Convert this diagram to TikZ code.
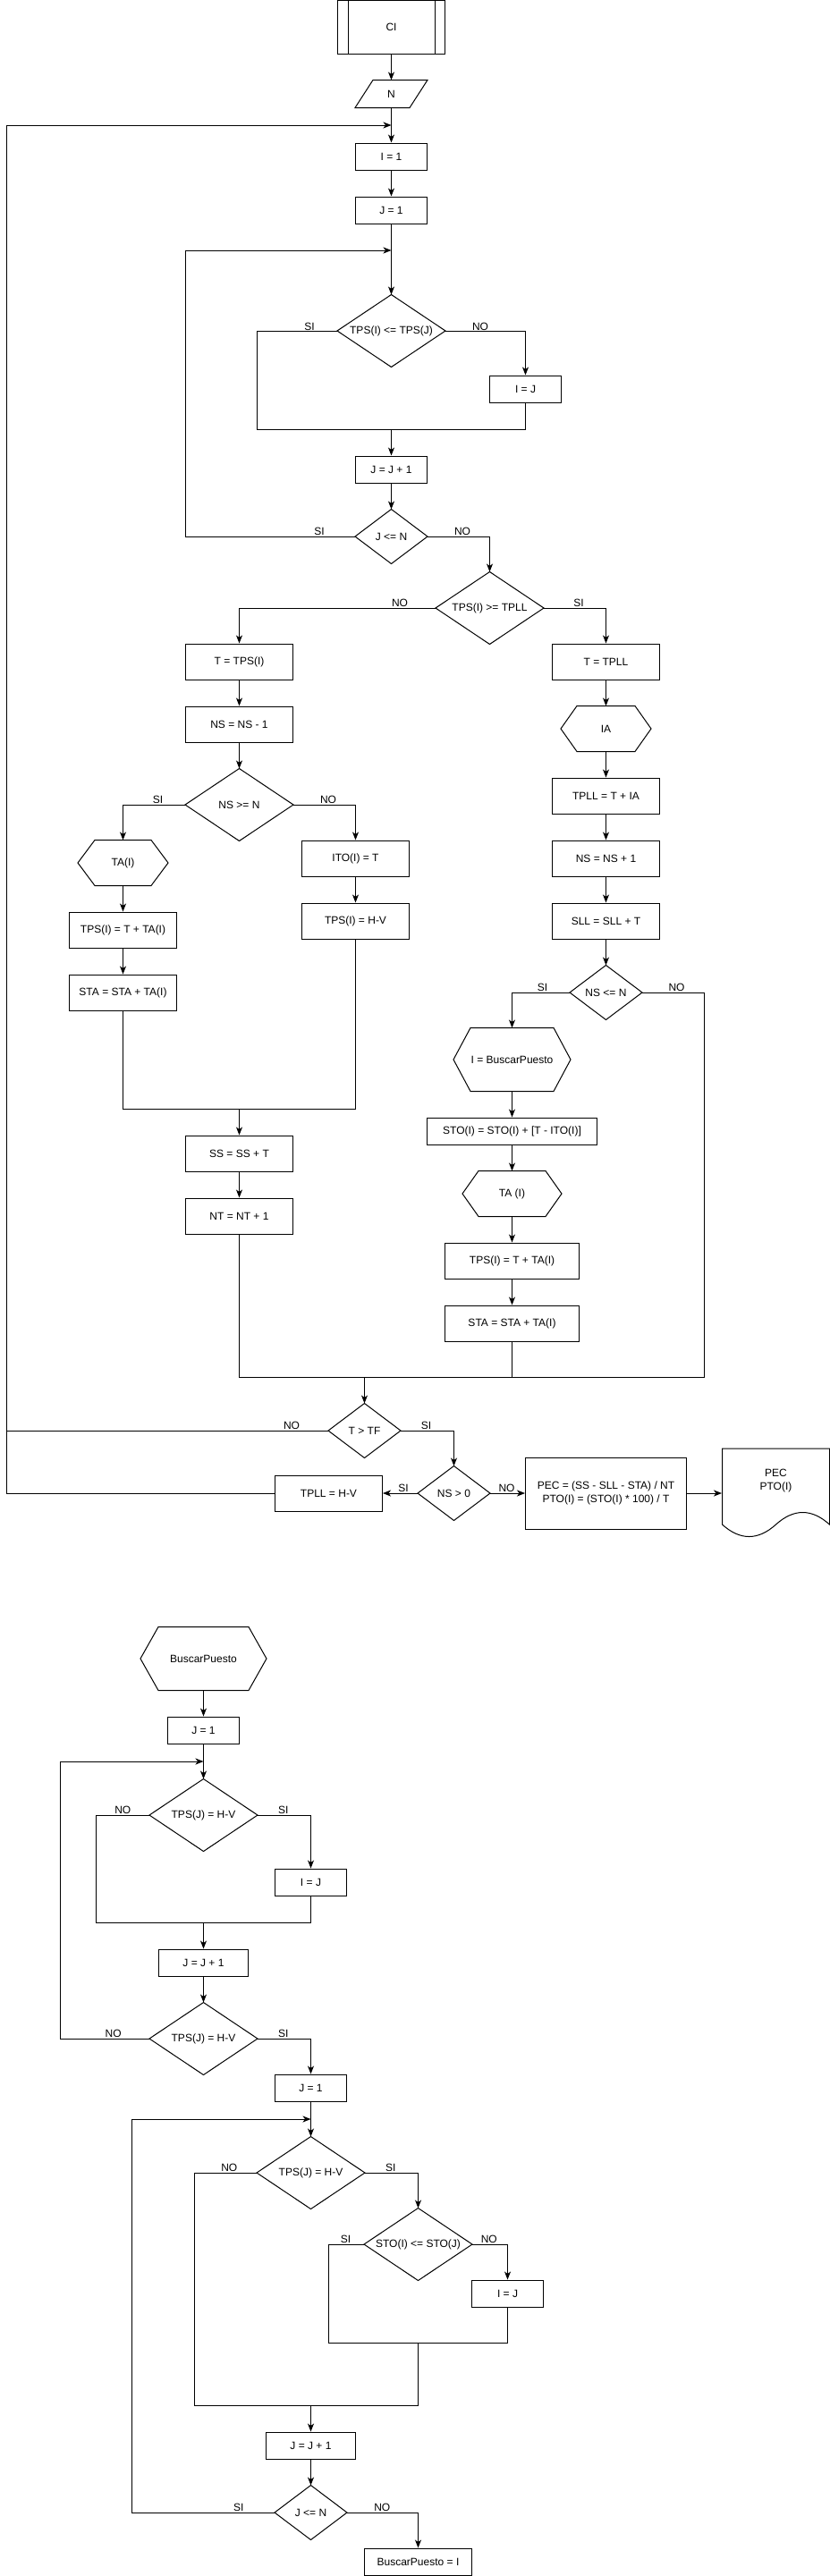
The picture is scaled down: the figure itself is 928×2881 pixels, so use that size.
\documentclass[tikz,border=0pt]{standalone}
\usepackage{fontspec}
\setmainfont{Liberation Sans}
\usetikzlibrary{arrows.meta}
\newcommand\diadraw[1]{\draw (#1.north) -- (#1.east) -- (#1.south) -- (#1.west) -- cycle;}
\newcommand\hexdraw[2]{\draw ([xshift=#2pt]#1.north west) -- ([xshift=-#2pt]#1.north east) -- (#1.east) -- ([xshift=-#2pt]#1.south east) -- ([xshift=#2pt]#1.south west) -- (#1.west) -- cycle;}
\begin{document}
\begin{tikzpicture}[x=1pt,y=-1pt,line width=1pt,
  font=\fontsize{12pt}{14.4pt}\selectfont,
  proc/.style args={#1x#2}{draw,rectangle,inner sep=0pt,minimum width=#1pt,minimum height=#2pt},
  ghost/.style args={#1x#2}{rectangle,inner sep=0pt,minimum width=#1pt,minimum height=#2pt},
  lbl/.style={inner sep=0pt},
  arr/.style={-{Stealth[length=9pt,width=7pt,inset=2.5pt]}}]
\useasboundingbox (0,0) rectangle (928,2881);

% ---------------- main chart nodes ----------------
\node[proc=120x60] (ci) at (437.5,30) {CI};
\draw ([xshift=12pt]ci.north west) -- ([xshift=12pt]ci.south west);
\draw ([xshift=-12pt]ci.north east) -- ([xshift=-12pt]ci.south east);
\node[ghost=80x30] (n) at (437.5,105) {N};
\draw ([xshift=20pt]n.north west) -- (n.north east) -- ([xshift=-20pt]n.south east) -- (n.south west) -- cycle;
\node[proc=80x30] (i1) at (437.5,175) {I = 1};
\node[proc=80x30] (j1) at (437.5,235) {J = 1};
\node[ghost=120x80] (d1) at (437.5,370) {TPS(I) <= TPS(J)}; \diadraw{d1}
\node[proc=80x30] (ij1) at (587.5,435) {I = J};
\node[proc=80x30] (jj1) at (437.5,525) {J = J + 1};
\node[ghost=80x60] (d2) at (437.5,600) {J <= N}; \diadraw{d2}
\node[ghost=120x80] (d3) at (547.5,680) {TPS(I) >= TPLL}; \diadraw{d3}
\node[proc=120x40] (ttps) at (267.5,740) {T = TPS(I)};
\node[proc=120x40] (nsm) at (267.5,810) {NS = NS - 1};
\node[ghost=120x80] (d4) at (267.5,900) {NS >= N}; \diadraw{d4}
\node[ghost=100x50] (ta1) at (137.5,965) {TA(I)}; \hexdraw{ta1}{19}
\node[proc=120x40] (tps1) at (137.5,1040) {TPS(I) = T + TA(I)};
\node[proc=120x40] (sta1) at (137.5,1110) {STA = STA + TA(I)};
\node[proc=120x40] (ito) at (397.5,960) {ITO(I) = T};
\node[proc=120x40] (tpshv) at (397.5,1030) {TPS(I) = H-V};
\node[proc=120x40] (ss) at (267.5,1290) {SS = SS + T};
\node[proc=120x40] (nt) at (267.5,1360) {NT = NT + 1};
\node[proc=120x40] (ttpll) at (677.5,740) {T = TPLL};
\node[ghost=100x50] (ia) at (677.5,815) {IA}; \hexdraw{ia}{18}
\node[proc=120x40] (tpllia) at (677.5,890) {TPLL = T + IA};
\node[proc=120x40] (nsp) at (677.5,960) {NS = NS + 1};
\node[proc=120x40] (sll) at (677.5,1030) {SLL = SLL + T};
\node[ghost=80x60] (d5) at (677.5,1110) {NS <= N}; \diadraw{d5}
\node[ghost=130x70] (ibp) at (572.5,1185) {I = BuscarPuesto}; \hexdraw{ibp}{19}
\node[proc=190x30] (sto) at (572.5,1265) {STO(I) = STO(I) + [T - ITO(I)]};
\node[ghost=110x50] (ta2) at (572.5,1335) {TA (I)}; \hexdraw{ta2}{18}
\node[proc=150x40] (tps2) at (572.5,1410) {TPS(I) = T + TA(I)};
\node[proc=150x40] (sta2) at (572.5,1480) {STA = STA + TA(I)};
\node[ghost=80x60] (d6) at (407.5,1600) {T > TF}; \diadraw{d6}
\node[ghost=80x60] (d7) at (507.5,1670) {NS > 0}; \diadraw{d7}
\node[proc=120x40] (tpllhv) at (367.5,1670) {TPLL = H-V};
\node[proc=180x80,align=center] (pec) at (677.5,1670) {PEC = (SS - SLL - STA) / NT\\PTO(I) = (STO(I) * 100) / T};
\node[ghost=120x100] (doc) at (867.5,1670) {};
\draw (807.5,1620) -- (927.5,1620) -- (927.5,1705) .. controls (907.5,1687) and (887.5,1687) .. (867.5,1705) .. controls (847.5,1723) and (827.5,1723) .. (807.5,1705) -- cycle;
\node[lbl,align=center] (doctext) at (867.5,1656) {PEC\\PTO(I)};

% coordinates
\coordinate (L1) at (437.5,140);
\coordinate (L2) at (437.5,280);
\coordinate (m1) at (437.5,480);
\coordinate (m2) at (267.5,1240);
\coordinate (m3) at (407.5,1540);

% ---------------- main chart connectors ----------------
\draw[arr] (ci) -- (n);
\draw[arr] (n) -- (i1);
\draw[arr] (i1) -- (j1);
\draw[arr] (j1) -- (d1.north);
\draw[arr] (d1.east) -| (ij1.north);
\draw (d1.west) -| (287.5,480) -- (m1);
\draw (ij1.south) |- (m1);
\draw[arr] (m1) -- (jj1.north);
\draw[arr] (jj1) -- (d2.north);
\draw[arr] (d2.west) -- (207.5,600) -- (207.5,280) -- (L2);
\draw[arr] (d2.east) -| (d3.north);
\draw[arr] (d3.west) -| (ttps.north);
\draw[arr] (d3.east) -| (ttpll.north);
\draw[arr] (ttps) -- (nsm);
\draw[arr] (nsm) -- (d4.north);
\draw[arr] (d4.west) -| (ta1.north);
\draw[arr] (d4.east) -| (ito.north);
\draw[arr] (ta1) -- (tps1);
\draw[arr] (tps1) -- (sta1);
\draw[arr] (ito) -- (tpshv);
\draw (sta1.south) |- (m2);
\draw (tpshv.south) |- (m2);
\draw[arr] (m2) -- (ss.north);
\draw[arr] (ss) -- (nt);
\draw[arr] (ttpll) -- (ia);
\draw[arr] (ia) -- (tpllia);
\draw[arr] (tpllia) -- (nsp);
\draw[arr] (nsp) -- (sll);
\draw[arr] (sll) -- (d5.north);
\draw[arr] (d5.west) -| (ibp.north);
\draw[arr] (ibp) -- (sto);
\draw[arr] (sto) -- (ta2);
\draw[arr] (ta2) -- (tps2);
\draw[arr] (tps2) -- (sta2);
\draw (nt.south) |- (m3);
\draw (sta2.south) |- (m3);
\draw (d5.east) -| (787.5,1540) -- (m3);
\draw[arr] (m3) -- (d6.north);
\draw[arr] (d6.west) -- (7.5,1600) -- (7.5,140) -- (L1);
\draw[arr] (d6.east) -| (d7.north);
\draw[arr] (d7.west) -- (tpllhv.east);
\draw (tpllhv.west) -- (7.5,1670) -- (7.5,1600);
\draw[arr] (d7.east) -- (pec.west);
\draw[arr] (pec.east) -- (doc.west);

% labels
\node[lbl] (l1a) at (346,365) {SI};
\node[lbl] (l1b) at (537,365) {NO};
\node[lbl] (l2a) at (357,594) {SI};
\node[lbl] (l2b) at (517,594) {NO};
\node[lbl] (l3a) at (447,674) {NO};
\node[lbl] (l3b) at (647,674) {SI};
\node[lbl] (l4a) at (176.5,894) {SI};
\node[lbl] (l4b) at (367,894) {NO};
\node[lbl] (l5a) at (606.5,1104) {SI};
\node[lbl] (l5b) at (756.5,1104) {NO};
\node[lbl] (l6a) at (326,1594) {NO};
\node[lbl] (l6b) at (476.5,1594) {SI};
\node[lbl] (l7a) at (451,1664) {SI};
\node[lbl] (l7b) at (566.5,1664) {NO};

% ---------------- BuscarPuesto chart ----------------
\node[ghost=140x70] (bp) at (227.5,1855) {BuscarPuesto}; \hexdraw{bp}{20}
\node[proc=80x30] (bj1) at (227.5,1935) {J = 1};
\node[ghost=120x80] (d8) at (227.5,2030) {TPS(J) = H-V}; \diadraw{d8}
\node[proc=80x30] (bij1) at (347.5,2105) {I = J};
\node[proc=100x30] (bjj1) at (227.5,2195) {J = J + 1};
\node[ghost=120x80] (d9) at (227.5,2280) {TPS(J) = H-V}; \diadraw{d9}
\node[proc=80x30] (bj2) at (347.5,2335) {J = 1};
\node[ghost=120x80] (d10) at (347.5,2430) {TPS(J) = H-V}; \diadraw{d10}
\node[ghost=120x80] (d11) at (467.5,2510) {STO(I) <= STO(J)}; \diadraw{d11}
\node[proc=80x30] (bij2) at (567.5,2565) {I = J};
\node[proc=100x30] (bjj2) at (347.5,2735) {J = J + 1};
\node[ghost=80x60] (d12) at (347.5,2810) {J <= N}; \diadraw{d12}
\node[proc=120x30] (bpi) at (467.5,2865) {BuscarPuesto = I};

\coordinate (L3) at (227.5,1970);
\coordinate (L4) at (347.5,2370);
\coordinate (m4) at (227.5,2150);
\coordinate (m5) at (467.5,2620);
\coordinate (m6) at (347.5,2690);

\draw[arr] (bp) -- (bj1);
\draw[arr] (bj1) -- (d8.north);
\draw[arr] (d8.east) -| (bij1.north);
\draw (d8.west) -| (107.5,2150) -- (m4);
\draw (bij1.south) |- (m4);
\draw[arr] (m4) -- (bjj1.north);
\draw[arr] (bjj1) -- (d9.north);
\draw[arr] (d9.west) -- (67.5,2280) -- (67.5,1970) -- (L3);
\draw[arr] (d9.east) -| (bj2.north);
\draw[arr] (bj2) -- (d10.north);
\draw[arr] (d10.east) -| (d11.north);
\draw (d10.west) -| (217.5,2690) -- (m6);
\draw (d11.west) -| (367.5,2620) -- (m5);
\draw[arr] (d11.east) -| (bij2.north);
\draw (bij2.south) |- (m5);
\draw (m5) -- (467.5,2690) -- (m6);
\draw[arr] (m6) -- (bjj2.north);
\draw[arr] (bjj2) -- (d12.north);
\draw[arr] (d12.west) -- (147.5,2810) -- (147.5,2370) -- (L4);
\draw[arr] (d12.east) -| (bpi.north);

\node[lbl] (l8a) at (137.3,2024) {NO};
\node[lbl] (l8b) at (316.7,2024) {SI};
\node[lbl] (l9a) at (126.7,2274) {NO};
\node[lbl] (l9b) at (316.7,2274) {SI};
\node[lbl] (l10a) at (256.3,2424) {NO};
\node[lbl] (l10b) at (436.8,2424) {SI};
\node[lbl] (l11a) at (386.5,2504) {SI};
\node[lbl] (l11b) at (546.8,2504) {NO};
\node[lbl] (l12a) at (266.7,2804) {SI};
\node[lbl] (l12b) at (427.3,2804) {NO};
\end{tikzpicture}
\end{document}
